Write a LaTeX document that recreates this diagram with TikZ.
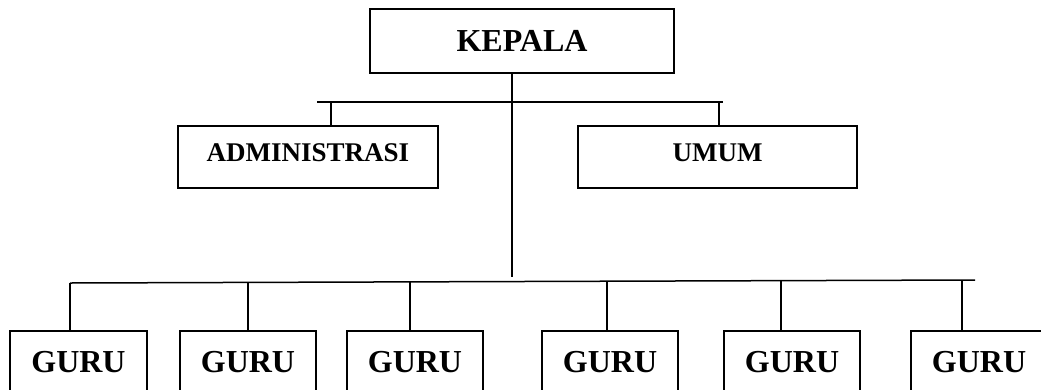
\documentclass[tikz,border=0pt]{standalone}
\usepackage{fontspec}
\setmainfont{Liberation Serif}
\begin{document}
\begin{tikzpicture}[x=1pt,y=-1pt,line width=1.5pt,
  box/.style={draw,line width=1.5pt,inner sep=0pt,font=\bfseries},
  big/.style={box,font=\fontsize{32}{32}\bfseries\selectfont},
  mid/.style={box,font=\fontsize{27}{27}\bfseries\selectfont,text depth=9pt,minimum width=#1,minimum height=62pt},
  guru/.style={big,minimum width=136pt,minimum height=61.4pt}]
\useasboundingbox (0,0) rectangle (1041,389);
\clip (0,0) rectangle (1041,389);
% boxes
\node[big,minimum width=304pt,minimum height=64pt] (kepala) at (522,41) {KEPALA};
\node[mid=260pt] (admin) at (308,157) {ADMINISTRASI};
\node[mid=279pt] (umum) at (717.5,157) {UMUM};
\node[guru,minimum width=137pt] (g1) at (78.5,361.7) {GURU};
\node[guru] (g2) at (248,361.7) {GURU};
\node[guru] (g3) at (415,361.7) {GURU};
\node[guru] (g4) at (610,361.7) {GURU};
\node[guru] (g5) at (792,361.7) {GURU};
\node[guru] (g6) at (979,361.7) {GURU};
% top bar
\coordinate (tl) at (317,102);
\coordinate (tr) at (723,102);
\draw (tl) -- (tr);
\draw (331,102) -- (331,102 |- admin.north);
\draw (719,102) -- (719,102 |- umum.north);
% main trunk
\coordinate (trunk) at (512,277);
\draw (kepala.south -| trunk) -- (trunk);
% bottom bar
\coordinate (bl) at (70,283);
\coordinate (br) at (975,280);
\draw (bl) -- (br);
\draw (70,282.5) -- (70,282.5 |- g1.north);
\draw (248,282.4) -- (248,282.4 |- g2.north);
\draw (410,281.9) -- (410,281.9 |- g3.north);
\draw (607,281.2) -- (607,281.2 |- g4.north);
\draw (781,280.6) -- (781,280.6 |- g5.north);
\draw (962,280.0) -- (962,280.0 |- g6.north);
\end{tikzpicture}
\end{document}
